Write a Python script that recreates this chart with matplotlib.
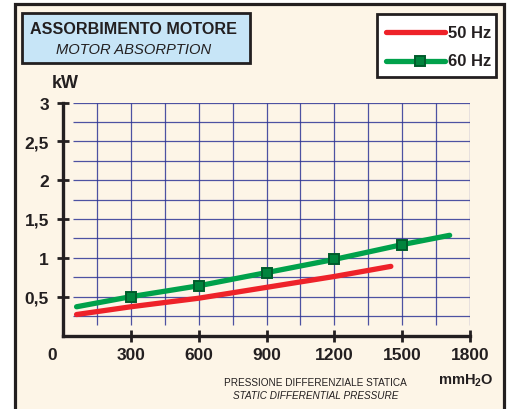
import matplotlib
matplotlib.use('Agg')
import matplotlib.pyplot as plt
from matplotlib.patches import Rectangle
from matplotlib.lines import Line2D
import numpy as np

# ---- data ----
x_50hz = [60, 300, 600, 900, 1200, 1450]
y_50hz = [0.27, 0.37, 0.48, 0.62, 0.76, 0.89]
x_60hz = [60, 300, 600, 900, 1200, 1500, 1710]
y_60hz = [0.37, 0.50, 0.64, 0.81, 0.98, 1.17, 1.29]
marker_idx_60hz = [1, 2, 3, 4, 5]
x_ticks = [300, 600, 900, 1200, 1500, 1800]
x_ticklabels = ['300', '600', '900', '1200', '1500', '1800']
y_ticks = [0.5, 1, 1.5, 2, 2.5, 3]
y_ticklabels = ['0,5', '1', '1,5', '2', '2,5', '3']
series_labels = ['50 Hz', '60 Hz']
title_it = 'ASSORBIMENTO MOTORE'
title_en = 'MOTOR ABSORPTION'
xlabel_it = 'PRESSIONE DIFFERENZIALE STATICA'
xlabel_en = 'STATIC DIFFERENTIAL PRESSURE'

# ---- style ----
W, H = 509, 410
CREAM = '#FDF5E7'
DARK = '#231F20'
RED = '#EE2229'
GREEN = '#00A14B'
GRID = '#2E3596'
BLUE_BOX = '#C7E5F7'
SANS = ['Liberation Sans', 'DejaVu Sans']

plt.rcParams['font.family'] = SANS
plt.rcParams['mathtext.fontset'] = 'custom'
plt.rcParams['mathtext.bf'] = 'Liberation Sans:bold'
plt.rcParams['mathtext.rm'] = 'Liberation Sans'

fig = plt.figure(figsize=(W / 100, H / 100), dpi=100, facecolor='white')

def fx(px):
    return px / W

def fy(py):
    return 1 - py / H

# outer frame
frame = Rectangle((fx(14.5), fy(415)), fx(504) - fx(14.5), fy(4.5) - fy(415),
                  transform=fig.transFigure, facecolor=CREAM, edgecolor=DARK,
                  linewidth=2.3, zorder=0)
fig.add_artist(frame)

# title box
tbox = Rectangle((fx(21.5), fy(64)), fx(250) - fx(21.5), fy(13.5) - fy(64),
                 transform=fig.transFigure, facecolor=BLUE_BOX, edgecolor=DARK,
                 linewidth=2.0, zorder=1)
fig.add_artist(tbox)
fig.text(fx(134), fy(29), title_it, ha='center', va='center', fontsize=11.6,
         fontweight='bold', color=DARK)
fig.text(fx(134), fy(50), title_en, ha='center', va='center', fontsize=10.6,
         style='italic', color=DARK)

# axes
ax = fig.add_axes([fx(63), fy(336.5), fx(470) - fx(63), fy(103.5) - fy(336.5)])
ax.patch.set_visible(False)
ax.set_xlim(0, 1800)
ax.set_ylim(0, 3)

# grid
ax.hlines(np.arange(0.25, 3.01, 0.25), 45, 1800, colors=GRID, linewidth=0.9,
          alpha=0.85, zorder=1)
ax.vlines(np.arange(150, 1801, 150), 0.14, 3, colors=GRID, linewidth=0.9,
          alpha=0.85, zorder=1)

# series
ax.plot(x_50hz, y_50hz, color=RED, linewidth=3.8, solid_capstyle='round',
        zorder=3, clip_on=False)
ax.plot(x_60hz, y_60hz, color=GREEN, linewidth=3.8, solid_capstyle='round',
        marker='s', markevery=marker_idx_60hz, markersize=6.5,
        markerfacecolor='#00843D', markeredgecolor='#005C2B',
        markeredgewidth=1.4, zorder=4, clip_on=False)

# spines / ticks
for s in ['top', 'right']:
    ax.spines[s].set_visible(False)
for s in ['left', 'bottom']:
    ax.spines[s].set_linewidth(2.4)
    ax.spines[s].set_color(DARK)
    ax.spines[s].set_zorder(5)
ax.set_xticks(x_ticks)
ax.set_xticklabels(x_ticklabels)
ax.set_yticks(y_ticks)
ax.set_yticklabels(y_ticklabels)
ax.tick_params(direction='inout', length=8, width=2, color=DARK,
               labelsize=12.5, labelcolor=DARK)
ax.tick_params(axis='x', pad=4)
ax.tick_params(axis='y', pad=6)
for lab in ax.get_xticklabels() + ax.get_yticklabels():
    lab.set_fontweight('bold')

ax.text(-50, -0.24, '0', ha='center', va='center', fontsize=12.5,
        fontweight='bold', color=DARK)

# axis labels
fig.text(fx(65), fy(84), 'kW', ha='center', va='center', fontsize=13,
         fontweight='bold', color=DARK)
fig.text(fx(466), fy(381), r'$\mathbf{mmH_2O}$', ha='center', va='center',
         fontsize=10.5, color=DARK)
fig.text(fx(315.5), fy(383), xlabel_it, ha='center', va='center',
         fontsize=7.2, color=DARK)
fig.text(fx(315.5), fy(396), xlabel_en, ha='center', va='center',
         fontsize=7.2, style='italic', color=DARK)

# legend (drawn as a box with sample lines, in figure coordinates)
lbox = Rectangle((fx(377), fy(78)), fx(496) - fx(377), fy(15) - fy(78),
                 transform=fig.transFigure, facecolor='white', edgecolor=DARK,
                 linewidth=2.0, zorder=6)
fig.add_artist(lbox)
legend_styles = [
    dict(color=RED, linewidth=3.8, solid_capstyle='round'),
    dict(color=GREEN, linewidth=3.8, solid_capstyle='round'),
]
legend_rows_y = [33, 62]
for label, style, ry in zip(series_labels, legend_styles, legend_rows_y):
    fig.add_artist(Line2D([fx(386), fx(445)], [fy(ry), fy(ry)],
                          transform=fig.transFigure, zorder=7, **style))
    fig.text(fx(448), fy(ry), label, ha='left', va='center', fontsize=12,
             fontweight='bold', color=DARK, zorder=8)
fig.add_artist(Line2D([fx(420)], [fy(legend_rows_y[1])], transform=fig.transFigure,
                      marker='s', markersize=6.5, markerfacecolor='#00843D',
                      markeredgecolor='#005C2B', markeredgewidth=1.4,
                      linestyle='none', zorder=8))

fig.savefig('out.png', dpi=100, facecolor='white')
